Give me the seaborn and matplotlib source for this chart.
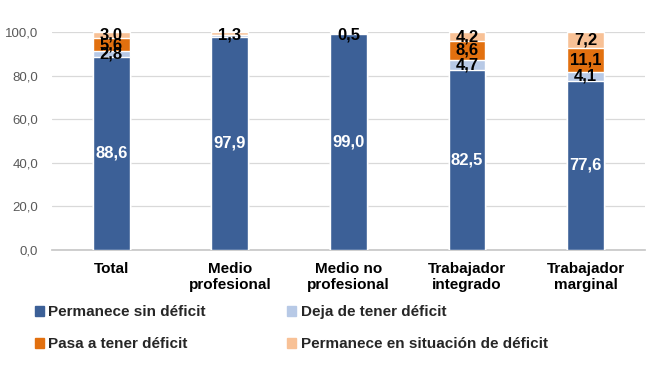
import matplotlib
matplotlib.use("Agg")
import matplotlib.pyplot as plt
import seaborn as sns
import pandas as pd
import numpy as np
from matplotlib.patches import Patch

categories = ["Total", "Medio\nprofesional", "Medio no\nprofesional", "Trabajador\nintegrado", "Trabajador\nmarginal"]
series_names = ["Permanece sin déficit", "Deja de tener déficit", "Pasa a tener déficit",
                "Permanece en situación de déficit"]
permanece_sin = [88.6, 97.9, 99.0, 82.5, 77.6]
deja = [2.8, 0.5, 0.2, 4.7, 4.1]
pasa = [5.6, 0.3, 0.3, 8.6, 11.1]
permanece_en = [3.0, 1.3, 0.5, 4.2, 7.2]
# which labels are displayed in the original chart
show_deja = [True, False, False, True, True]
show_pasa = [True, False, False, True, True]
show_en = [True, True, True, True, True]

colors = ["#3C6097", "#B7C9E6", "#E2700F", "#F8C196"]

sns.set_theme(style="white")
plt.rcParams['font.family'] = ['Liberation Sans', 'DejaVu Sans']

values = [permanece_sin, deja, pasa, permanece_en]
cum = np.cumsum(np.array(values), axis=0)

fig = plt.figure(figsize=(6.5, 3.67), dpi=100)
ax = fig.add_axes([0.08, 0.319, 0.912, 0.594])

for i in range(3, -1, -1):
    df = pd.DataFrame({"cat": categories, "val": cum[i]})
    sns.barplot(data=df, x="cat", y="val", color=colors[i], width=0.31,
                saturation=1, ax=ax, zorder=3)

ax.set_ylim(0, 100)
ax.set_xlim(-0.5, 4.5)
ax.set_yticks(np.arange(0, 101, 20))
ax.set_yticklabels([f"{v:.1f}".replace(".", ",") for v in np.arange(0, 101, 20)],
                   fontsize=9.5, color="#595959")
ax.set_xlabel("")
ax.set_ylabel("")
ax.tick_params(axis="x", labelsize=11, length=0, pad=9, colors="black")
ax.tick_params(axis="y", length=0, pad=10)
for lab in ax.get_xticklabels():
    lab.set_fontweight("bold")
    lab.set_linespacing(1.15)
ax.yaxis.grid(True, color="#D9D9D9", linewidth=0.9, zorder=0)
ax.set_axisbelow(True)
for s in ["left", "right", "top"]:
    ax.spines[s].set_visible(False)
ax.spines["bottom"].set_color("#C8C8C8")

fmt = lambda v: f"{v:.1f}".replace(".", ",")
for j in range(len(categories)):
    ax.text(j, permanece_sin[j] / 2, fmt(permanece_sin[j]), ha="center", va="center",
            color="white", fontweight="bold", fontsize=12, zorder=5)
    if show_deja[j]:
        ax.text(j, cum[0][j] + deja[j] / 2, fmt(deja[j]), ha="center", va="center",
                color="black", fontweight="bold", fontsize=12, zorder=5)
    if show_pasa[j]:
        ax.text(j, cum[1][j] + pasa[j] / 2, fmt(pasa[j]), ha="center", va="center",
                color="black", fontweight="bold", fontsize=12, zorder=5)
    if show_en[j]:
        y = cum[2][j] + permanece_en[j] / 2
        if permanece_en[j] < 2:
            y = 98.5
        ax.text(j, y, fmt(permanece_en[j]), ha="center", va="center",
                color="black", fontweight="bold", fontsize=12, zorder=5)

handles = [Patch(color=colors[k]) for k in [0, 2, 1, 3]]
labels = [series_names[k] for k in [0, 2, 1, 3]]
leg = fig.legend(handles, labels, ncol=2, loc="lower left", bbox_to_anchor=(0.032, 0.005),
                 frameon=False, handlelength=0.6, handleheight=0.6, handletextpad=0.3,
                 columnspacing=5.3, labelspacing=1.2, prop={"weight": "bold", "size": 11})

fig.savefig("out.png", dpi=100)
